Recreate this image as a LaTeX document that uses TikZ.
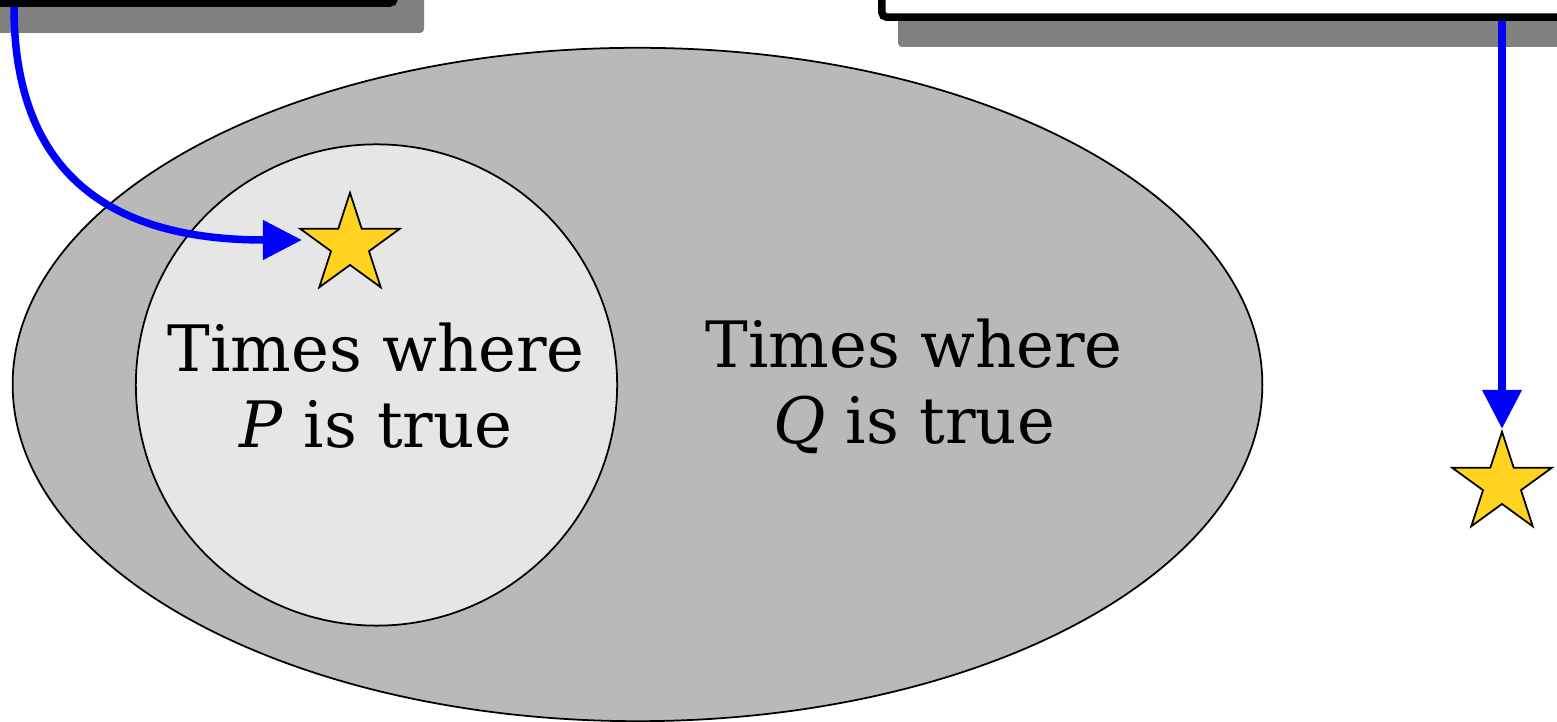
\documentclass[tikz,border=0pt]{standalone}
\usepackage{fontspec}
\setmainfont{DejaVu Serif}
\usetikzlibrary{arrows.meta,shapes.geometric}
\definecolor{stargold}{RGB}{255,211,32}
\definecolor{outerfill}{RGB}{185,185,185}
\definecolor{innerfill}{RGB}{230,230,230}
\definecolor{shadowgray}{RGB}{128,128,128}
\begin{document}
\begin{tikzpicture}[x=0.01cm,y=-0.01cm,
  framebox/.style={draw=black, line width=0.076cm, fill=white, rounded corners=0.05cm, inner sep=0pt},
  shadowbox/.style={fill=shadowgray, rounded corners=0.04cm},
  starshape/.style={star, star points=5, star point ratio=2.618, minimum size=1.045cm, inner sep=0pt, draw=black, line width=0.5pt, fill=stargold},
  arrowline/.style={draw=blue, line width=0.075cm, -{Triangle[length=0.39cm,width=0.38cm]}},
  settext/.style={align=center, font=\fontsize{18.2}{21.6}\selectfont, inner sep=0pt}]
\useasboundingbox (0,0) rectangle (1557,722);
\clip (0,0) rectangle (1557,722);
% top-left box with shadow
\fill[shadowbox] (-200,-300) rectangle (424,33);
\node[framebox, minimum width=6cm, minimum height=3cm, anchor=south east] (boxA) at (398,7) {};
% top-right box with shadow
\fill[shadowbox] (898,-300) rectangle (1900,47);
\node[framebox, minimum width=8cm, minimum height=3cm, anchor=south west] (boxB) at (878,21) {};
% sets
\node[ellipse, draw=black, line width=0.5pt, fill=outerfill, minimum width=12.49cm, minimum height=6.73cm, inner sep=0pt] (setQ) at (637.5,384.5) {};
\node[circle, draw=black, line width=0.5pt, fill=innerfill, minimum size=4.81cm, inner sep=0pt] (setP) at (376.5,385) {};
\node[settext] (labelP) at (376,386) {Times where\\\textit{P} is true};
\node[settext] (labelQ) at (914,386) {Times where\\\textit{Q} is true};
% stars
\node[starshape] (starA) at (350,245) {};
\node[starshape] (starB) at (1502,484) {};
% arrows
\coordinate (startA) at (14,7);
\coordinate (tipA) at (302,240);
\draw[arrowline] (startA) .. controls (14,190) and (130,240) .. (tipA);
\draw[arrowline] (boxB.south -| starB.north) -- (starB.north);
\end{tikzpicture}
\end{document}
